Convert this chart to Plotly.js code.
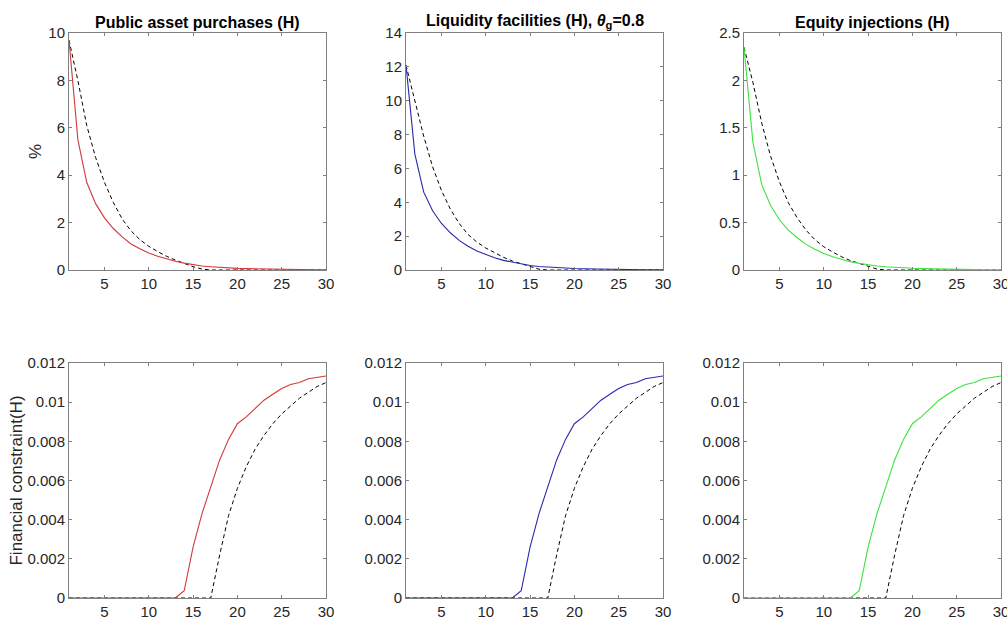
<!DOCTYPE html>
<html>
<head>
<meta charset="utf-8">
<script src="https://cdn.plot.ly/plotly-3.0.1.min.js"></script>
<style>html,body{margin:0;padding:0;background:#fff;}#chart{width:1007px;height:619px;}</style>
</head>
<body>
<div id="chart"></div>
<script>
// ---- data ----
var periods = [1,2,3,4,5,6,7,8,9,10,11,12,13,14,15,16,17,18,19,20,21,22,23,24,25,26,27,28,29,30];

var titles = ["Public asset purchases (H)", "Liquidity facilities (H), <i>θ</i><sub>g</sub>=0.8", "Equity injections (H)"];

var assetPolicy = [9.7,5.5,3.7,2.8,2.2,1.75,1.4,1.1,0.9,0.72,0.58,0.46,0.37,0.29,0.22,0.17,0.14,0.11,0.09,0.07,0.06,0.05,0.04,0.03,0.025,0.02,0.015,0.012,0.01,0.008];
var assetBase   = [9.7,8.0,6.1,4.75,3.7,2.85,2.15,1.65,1.28,1.0,0.78,0.58,0.42,0.28,0.14,0.04,0,0,0,0,0,0,0,0,0,0,0,0,0,0];

var liqPolicy = [12.1,6.85,4.6,3.5,2.75,2.2,1.75,1.4,1.12,0.9,0.72,0.57,0.46,0.36,0.27,0.21,0.17,0.14,0.11,0.09,0.075,0.06,0.05,0.04,0.03,0.025,0.02,0.015,0.012,0.01];
var liqBase   = [12.1,10.0,7.9,6.1,4.7,3.6,2.75,2.1,1.65,1.3,1.0,0.75,0.53,0.36,0.18,0.05,0,0,0,0,0,0,0,0,0,0,0,0,0,0];

var eqPolicy = [2.35,1.35,0.9,0.68,0.53,0.42,0.34,0.27,0.22,0.175,0.14,0.11,0.088,0.07,0.055,0.042,0.034,0.027,0.022,0.018,0.015,0.012,0.01,0.008,0.006,0.005,0.004,0.003,0.0025,0.002];
var eqBase   = [2.35,1.98,1.55,1.2,0.93,0.71,0.55,0.42,0.32,0.245,0.19,0.14,0.1,0.068,0.035,0.01,0,0,0,0,0,0,0,0,0,0,0,0,0,0];

var fcPolicy = [0,0,0,0,0,0,0,0,0,0,0,0,0,0.00037,0.0026,0.0043,0.0057,0.00705,0.0081,0.0089,0.00925,0.0097,0.0101,0.0104,0.0107,0.0109,0.0110,0.0112,0.01127,0.01134];
var fcBase   = [0,0,0,0,0,0,0,0,0,0,0,0,0,0,0,0,0,0.0022,0.0042,0.0056,0.0067,0.0076,0.0083,0.0089,0.0094,0.0098,0.0102,0.0105,0.0108,0.0110];

var topRanges = [[0,10],[0,14],[0,2.5]];
var topDticks = [2,2,0.5];
var colors = ["rgb(212,55,55)", "rgb(40,40,175)", "rgb(60,225,60)"];
var topPolicy = [assetPolicy, liqPolicy, eqPolicy];
var topBase = [assetBase, liqBase, eqBase];

// ---- layout geometry (pixels) ----
var W = 1007, H = 619;
var colPx = [[69,326],[406,663],[744,1001]];
var rowPx = [[33,270],[363,598]];
var FONT = "Liberation Sans, Arial, sans-serif";

var traces = [];
var layout = {
  width: W, height: H,
  margin: {l:0, r:0, t:0, b:0},
  paper_bgcolor: "#fff", plot_bgcolor: "#fff",
  showlegend: false,
  font: {family: FONT, size: 15, color: "#262626"},
  annotations: []
};

function axBase() {
  return {
    showline: true, linecolor: "#808080", linewidth: 1, mirror: "ticks",
    ticks: "inside", ticklen: 3, tickcolor: "#808080", tickwidth: 1,
    showgrid: false, zeroline: false, ticklabeloverflow: "allow",
    tickfont: {family: FONT, size: 15, color: "#262626"}
  };
}

var idx = 0;
for (var r = 0; r < 2; r++) {
  for (var c = 0; c < 3; c++) {
    idx++;
    var xn = idx === 1 ? "xaxis" : "xaxis" + idx;
    var yn = idx === 1 ? "yaxis" : "yaxis" + idx;
    var xr = idx === 1 ? "x" : "x" + idx;
    var yr = idx === 1 ? "y" : "y" + idx;
    var xa = axBase();
    xa.domain = [colPx[c][0]/W, colPx[c][1]/W];
    xa.range = [1, 30];
    xa.tickvals = [5,10,15,20,25,30];
    xa.anchor = yr;
    var ya = axBase();
    ya.domain = [1 - rowPx[r][1]/H, 1 - rowPx[r][0]/H];
    ya.anchor = xr;
    if (r === 0) {
      ya.range = topRanges[c];
      ya.dtick = topDticks[c];
      ya.tick0 = 0;
    } else {
      ya.range = [0, 0.012];
      ya.tickvals = [0,0.002,0.004,0.006,0.008,0.01,0.012];
      ya.ticktext = ["0","0.002","0.004","0.006","0.008","0.01","0.012"];
    }
    if (r === 0 && c === 0) {
      ya.title = {text: "%", font: {family: FONT, size: 17, color: "#262626"}, standoff: 2};
    }
    if (r === 1 && c === 0) {
      ya.title = {text: "Financial constraint(H)", font: {family: FONT, size: 17, color: "#262626"}, standoff: 0};
    }
    layout[xn] = xa;
    layout[yn] = ya;

    var pol = r === 0 ? topPolicy[c] : fcPolicy;
    var bas = r === 0 ? topBase[c] : fcBase;
    traces.push({x: periods, y: bas, xaxis: xr, yaxis: yr, type: "scatter", mode: "lines",
      line: {color: "#000", width: 1, dash: "4px,3px"}, hoverinfo: "skip"});
    traces.push({x: periods, y: pol, xaxis: xr, yaxis: yr, type: "scatter", mode: "lines",
      line: {color: colors[c], width: 1.1}, hoverinfo: "skip"});

    if (r === 0) {
      layout.annotations.push({
        text: "<b>" + titles[c] + "</b>",
        xref: "paper", yref: "paper",
        x: (colPx[c][0] + colPx[c][1]) / 2 / W,
        y: 1 - 33/H, xanchor: "center", yanchor: "bottom",
        showarrow: false,
        font: {family: FONT, size: 16, color: "#000"}
      });
    }
  }
}

Plotly.newPlot("chart", traces, layout, {staticPlot: true, displayModeBar: false});
</script>
</body>
</html>
